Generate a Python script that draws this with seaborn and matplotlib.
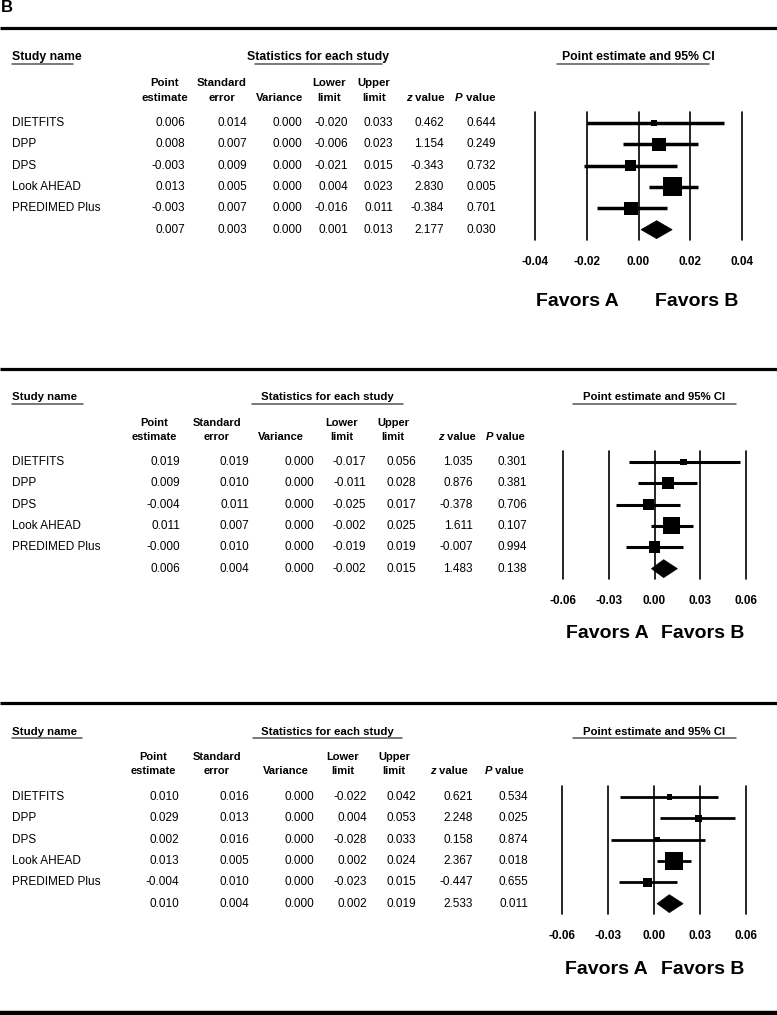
import numpy as np
import pandas as pd
import matplotlib
matplotlib.use("Agg")
import matplotlib.pyplot as plt
from matplotlib.patches import Polygon
import seaborn as sns

# ---------------- data ----------------
studies = ["DIETFITS", "DPP", "DPS", "Look AHEAD", "PREDIMED Plus"]

p1_est = [0.006, 0.008, -0.003, 0.013, -0.003, 0.007]
p1_se = [0.014, 0.007, 0.009, 0.005, 0.007, 0.003]
p1_var = [0.000, 0.000, 0.000, 0.000, 0.000, 0.000]
p1_lo = [-0.020, -0.006, -0.021, 0.004, -0.016, 0.001]
p1_hi = [0.033, 0.023, 0.015, 0.023, 0.011, 0.013]
p1_z = [0.462, 1.154, -0.343, 2.830, -0.384, 2.177]
p1_p = [0.644, 0.249, 0.732, 0.005, 0.701, 0.030]
p1_ticks = [-0.04, -0.02, 0.00, 0.02, 0.04]

p2_est = [0.019, 0.009, -0.004, 0.011, -0.000, 0.006]
p2_se = [0.019, 0.010, 0.011, 0.007, 0.010, 0.004]
p2_var = [0.000, 0.000, 0.000, 0.000, 0.000, 0.000]
p2_lo = [-0.017, -0.011, -0.025, -0.002, -0.019, -0.002]
p2_hi = [0.056, 0.028, 0.017, 0.025, 0.019, 0.015]
p2_z = [1.035, 0.876, -0.378, 1.611, -0.007, 1.483]
p2_p = [0.301, 0.381, 0.706, 0.107, 0.994, 0.138]
p2_ticks = [-0.06, -0.03, 0.00, 0.03, 0.06]

p3_est = [0.010, 0.029, 0.002, 0.013, -0.004, 0.010]
p3_se = [0.016, 0.013, 0.016, 0.005, 0.010, 0.004]
p3_var = [0.000, 0.000, 0.000, 0.000, 0.000, 0.000]
p3_lo = [-0.022, 0.004, -0.028, 0.002, -0.023, 0.002]
p3_hi = [0.042, 0.053, 0.033, 0.024, 0.015, 0.019]
p3_z = [0.621, 2.248, 0.158, 2.367, -0.447, 2.533]
p3_p = [0.534, 0.025, 0.874, 0.018, 0.655, 0.011]
p3_ticks = [-0.06, -0.03, 0.00, 0.03, 0.06]

col_headers = [("Point", "estimate"), ("Standard", "error"), ("", "Variance"),
               ("Lower", "limit"), ("Upper", "limit"), ("", "z value"), ("", "P value")]
title_study = "Study name"
title_stats = "Statistics for each study"
title_ci = "Point estimate and 95% CI"
favors = ("Favors A", "Favors B")
panel_label = "B"

# ---------------- style / layout ----------------
sns.set_theme(style="white")
plt.rcParams['font.family'] = ['Liberation Sans', 'DejaVu Sans']
plt.rcParams['text.color'] = 'black'
plt.rcParams['xtick.color'] = 'black'
plt.rcParams['xtick.labelcolor'] = 'black'
plt.rcParams['axes.labelcolor'] = 'black'

W, H = 777, 1015
fig = plt.figure(figsize=(W / 100, H / 100), dpi=100)
tax = fig.add_axes([0, 0, 1, 1])
tax.set_xlim(0, W)
tax.set_ylim(H, 0)
tax.axis("off")
renderer = fig.canvas.get_renderer()

SP = 21.33  # row spacing px

layouts = [
    dict(data=(p1_est, p1_se, p1_var, p1_lo, p1_hi, p1_z, p1_p), ticks=p1_ticks,
         rule=28, title_y=57, ul_y=63.5, hdr_y=(83, 98), row0=123,
         study_ul=(12, 73), stats_c=318, stats_ul=(255, 382), ci_c=638, ci_ul=(557, 709),
         data_r=[185, 247, 302, 348, 393, 444, 496],
         hdr_c=[165, 222, 280, 329, 374, 425, 475],
         fx=(535, 742), fav_y=302, fav_x=(577, 697), box_max=19, ci_lw=2.5,
         title_fs=8.8, hdr_fs=8.2),
    dict(data=(p2_est, p2_se, p2_var, p2_lo, p2_hi, p2_z, p2_p), ticks=p2_ticks,
         rule=369, title_y=397, ul_y=403.5, hdr_y=(423, 437), row0=462,
         study_ul=(12, 83), stats_c=327, stats_ul=(252, 403), ci_c=654, ci_ul=(573, 736),
         data_r=[180, 249, 314, 366, 416, 473, 527],
         hdr_c=[154, 217, 281, 342, 393, 457, 505],
         fx=(563, 746), fav_y=633, fav_x=(607, 703), box_max=17, ci_lw=2.2,
         title_fs=8.2, hdr_fs=8.0),
    dict(data=(p3_est, p3_se, p3_var, p3_lo, p3_hi, p3_z, p3_p), ticks=p3_ticks,
         rule=703, title_y=732, ul_y=738, hdr_y=(757, 771), row0=797,
         study_ul=(12, 82), stats_c=327, stats_ul=(253, 402), ci_c=654, ci_ul=(573, 736),
         data_r=[179, 249, 314, 367, 416, 473, 528],
         hdr_c=[153, 217, 286, 343, 394, 449, 504],
         fx=(562, 746), fav_y=970, fav_x=(606, 703), box_max=18, ci_lw=2.0,
         title_fs=8.2, hdr_fs=8.0),
]

ROW_FS = 8.5
UL_COLOR = "#555555"


def text_width(s, **kw):
    t = tax.text(0, 0, s, **kw)
    w = t.get_window_extent(renderer).width
    t.remove()
    return w


def italic_header(cx, y, letter, rest, fs):
    kw = dict(fontsize=fs, fontweight="bold", va="center", color="black")
    wl = text_width(letter, fontstyle="italic", **kw)
    wr = text_width(rest, **kw)
    x0 = cx - (wl + wr) / 2
    tax.text(x0, y, letter, fontstyle="italic", ha="left", **kw)
    tax.text(x0 + wl, y, rest, ha="left", **kw)


# panel label
tax.text(1, 7, panel_label, fontsize=12, fontweight="bold", ha="left", va="center", color="black")
# bottom rule
tax.plot([0, W], [1012.5, 1012.5], color="black", lw=3.2, solid_capstyle="butt")

for L in layouts:
    est, se, var, lo, hi, z, p = L["data"]
    cols = [est, se, var, lo, hi, z, p]
    # rule
    tax.plot([0, W], [L["rule"], L["rule"]], color="black", lw=2.3, solid_capstyle="butt")
    # titles
    tfs = L["title_fs"]
    tkw = dict(fontsize=tfs, fontweight="bold", va="center", color="black")
    tax.text(12, L["title_y"], title_study, ha="left", **tkw)
    tax.text(L["stats_c"], L["title_y"], title_stats, ha="center", **tkw)
    tax.text(L["ci_c"], L["title_y"], title_ci, ha="center", **tkw)
    for a, b in (L["study_ul"], L["stats_ul"], L["ci_ul"]):
        tax.plot([a, b], [L["ul_y"], L["ul_y"]], color=UL_COLOR, lw=1.1)
    # column headers
    hkw = dict(fontsize=L["hdr_fs"], fontweight="bold", ha="center", va="center", color="black")
    for (l1, l2), cx in zip(col_headers, L["hdr_c"]):
        if l1:
            tax.text(cx, L["hdr_y"][0], l1, **hkw)
        if l2.endswith(" value"):
            italic_header(cx, L["hdr_y"][1], l2.split(" ")[0], " value", L["hdr_fs"])
        else:
            tax.text(cx, L["hdr_y"][1], l2, **hkw)
    # rows
    n = len(est)
    for i in range(n):
        y = L["row0"] + SP * i
        if i < len(studies):
            tax.text(12, y, studies[i], fontsize=ROW_FS, ha="left", va="center", color="black")
        for c, xr in zip(cols, L["data_r"]):
            tax.text(xr, y, f"{c[i]:.3f}", fontsize=ROW_FS, ha="right", va="center", color="black")

    # forest axes
    x0, x1 = L["fx"]
    top = L["row0"] - SP / 2
    hgt = SP * n
    ax = fig.add_axes([x0 / W, 1 - (top + hgt) / H, (x1 - x0) / W, hgt / H])
    ax.set_facecolor("none")
    lim = max(abs(t) for t in L["ticks"])
    ax.set_xlim(-lim, lim)
    ax.set_ylim(n - 0.5, -0.5)
    for s in ax.spines.values():
        s.set_visible(False)
    ax.set_yticks([])
    for t in L["ticks"]:
        ax.axvline(t, color="black", lw=1.2, clip_on=False, zorder=1)
    ax.set_xticks(L["ticks"])
    ax.set_xticklabels([f"{t:.2f}" for t in L["ticks"]], fontsize=8.5, fontweight="bold", color="black")
    ax.tick_params(axis="x", length=0, pad=11.5, colors="black")

    rows = np.arange(len(studies))
    ax.hlines(rows, lo[:len(studies)], hi[:len(studies)], color="black", lw=L["ci_lw"], zorder=2)
    se_st = np.array(se[:len(studies)])
    side_px = L["box_max"] * se_st.min() / se_st
    area = (side_px * 0.72) ** 2
    df = pd.DataFrame({"est": est[:len(studies)], "row": rows, "area": area})
    sns.scatterplot(data=df, x="est", y="row", size="area",
                    sizes={a: a for a in df["area"].unique()},
                    marker="s", color="black", linewidth=0, legend=False, ax=ax, zorder=3)
    ax.set_xlabel("")
    ax.set_ylabel("")
    # summary diamond
    yi = n - 1
    hh = 0.42
    ax.add_patch(Polygon([(lo[-1], yi), (est[-1], yi - hh), (hi[-1], yi), (est[-1], yi + hh)],
                         closed=True, facecolor="black", edgecolor="black", lw=0.5, zorder=3))

    # favors
    fkw = dict(fontsize=14, fontweight="bold", ha="center", va="center", color="black")
    tax.text(L["fav_x"][0], L["fav_y"], favors[0], **fkw)
    tax.text(L["fav_x"][1], L["fav_y"], favors[1], **fkw)

fig.savefig("out.png", dpi=100)
